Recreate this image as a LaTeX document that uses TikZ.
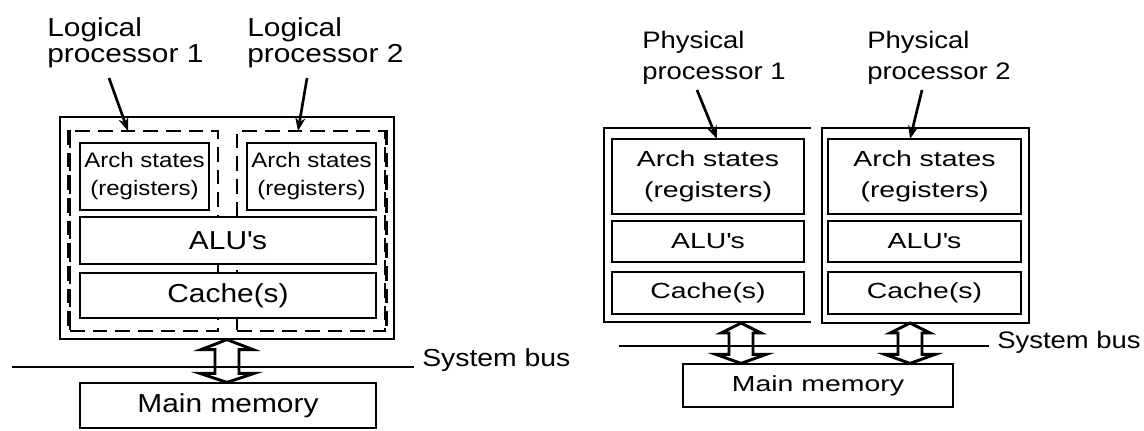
\documentclass[tikz,border=0pt]{standalone}
\usepackage{fontspec}
\setmainfont{Liberation Sans}[FakeStretch=1.15]
\newfontfamily\widesans{Liberation Sans}[FakeStretch=1.3]
\usepackage{tikz}
\usetikzlibrary{positioning, fit, calc, arrows.meta}

% hollow double-headed bus arrow: top, bottom, half width of top head, of bottom head
\newcommand\busarrow[4]{%
  \draw[busarrow] (#1) -- ($(#1)+(#3,10)$) -- ($(#1)+(12,10)$) -- ($(#2)+(12,-9)$)
    -- ($(#2)+(#4,-9)$) -- (#2) -- ($(#2)+(-#4,-9)$) -- ($(#2)+(-12,-9)$)
    -- ($(#1)+(-12,10)$) -- ($(#1)+(-#3,10)$) -- cycle;}

\begin{document}
\begin{tikzpicture}[x=0.75pt, y=-0.75pt,
    unit/.style={draw, line width=1.1pt, fill=white, inner sep=0pt, align=center},
    size/.style 2 args={minimum width=#1*0.75pt, minimum height=#2*0.75pt},
    frame/.style={draw, line width=0.9pt, inner sep=0pt},
    lproc/.style={draw, line width=1.7pt, dash pattern=on 11pt off 6pt, inner sep=0pt},
    pointer/.style={line width=2pt, -{Stealth[length=10pt, width=7.5pt]}},
    busline/.style={line width=1.3pt, shorten >=6pt},
    busarrow/.style={line width=2.2pt, line join=miter},
    lbl/.style={align=left, inner sep=0pt, anchor=north west},
    logical/.style={lbl, font=\fontsize{19.5}{20}\selectfont},
    physical/.style={lbl, font=\fontsize{17.9}{23}\selectfont},
    small/.style={font=\fontsize{15.7}{21}\selectfont},
    big/.style={font=\fontsize{19.5}{21}\selectfont},
    wide/.style={font=\widesans\fontsize{16.4}{23}\selectfont}]

    \useasboundingbox (0,0) rectangle (1144,430);

    % Hyper-Threading
    \node[frame, fit={(60,117) (394,339)}] (core) {};
    \node[lproc, fit={(70,131) (218,331)}] (lp1box) {};
    \node[lproc, fit={(237,131) (385,331)}] (lp2box) {};
    \draw[lproc, line width=3pt] (lp1box.north west) -- (lp1box.south west);
    \draw[lproc, line width=2.4pt] (lp2box.north east) -- (lp2box.south east);

    \node[unit, small, size={129}{67}] (archA) at (144.5,176.5) {Arch states\\(registers)};
    \node[unit, small, size={129}{67}] (archB) at (311.5,176.5) {Arch states\\(registers)};
    \node[unit, big, size={296}{47}] (aluL) at (228,240.5) {ALU\textquotesingle s};
    \node[unit, big, size={296}{45}] (cacheL) at (228,295.5) {Cache(s)};
    \node[unit, big, line width=0.9pt, size={296}{45}] (memL) at (228,405.5) {Main memory};

    \node[logical] (lp1) at (47,17) {Logical\\processor 1};
    \node[logical] (lp2) at (247,17) {Logical\\processor 2};
    \coordinate (lp1tail) at (109,78);
    \coordinate (lp1tip) at (128,131);
    \coordinate (lp2tail) at (307,78);
    \coordinate (lp2tip) at (298,131);
    \draw[pointer] (lp1tail) -- (lp1tip);
    \draw[pointer] (lp2tail) -- (lp2tip);

    \node[anchor=base west, inner sep=0pt, font=\fontsize{18.5}{18.5}\selectfont] (busL) at (422,366) {System bus};
    \coordinate (busLstart) at (12,367);
    \draw[busline] (busLstart) -- (busLstart -| busL.west);
    \coordinate (busLtop) at (core.south);
    \coordinate (busLbot) at (core.south |- memL.north);
    \busarrow{busLtop}{busLbot}{26}{27}

    % two physical processors
    \draw[line width=1.1pt] (811,128) -| (604,322) -- (811,322);
    \node[frame, line width=1.1pt, fit={(822,128) (1029,323)}] (cpu2) {};

    \node[unit, wide, size={192}{75}] (archC) at (708,176.5) {Arch states\\(registers)};
    \node[unit, wide, size={192}{41}] (aluC) at (708,241.5) {ALU\textquotesingle s};
    \node[unit, wide, size={192}{42}] (cacheC) at (708,293) {Cache(s)};
    \node[unit, wide, size={193}{75}] (archD) at (924.5,176.5) {Arch states\\(registers)};
    \node[unit, wide, size={193}{41}] (aluD) at (924.5,241.5) {ALU\textquotesingle s};
    \node[unit, wide, size={193}{42}] (cacheD) at (924.5,293) {Cache(s)};
    \node[unit, wide, line width=0.9pt, size={270}{43}] (memR) at (818,385.5) {Main memory};

    \node[physical] (pp1) at (642,31) {Physical\\processor 1};
    \node[physical] (pp2) at (867,31) {Physical\\processor 2};
    \coordinate (pp1tail) at (697,90);
    \coordinate (pp1tip) at (717,139);
    \coordinate (pp2tail) at (922,90);
    \coordinate (pp2tip) at (910,139);
    \draw[pointer] (pp1tail) -- (pp1tip);
    \draw[pointer] (pp2tail) -- (pp2tip);

    \node[anchor=base west, inner sep=0pt, font=\fontsize{17.9}{17.9}\selectfont] (busR) at (997,348) {System bus};
    \coordinate (busRstart) at (619,346);
    \draw[busline] (busRstart) -- (busRstart -| busR.west);
    \coordinate (busR1top) at (741,323);
    \coordinate (busR1bot) at (busR1top |- memR.north);
    \coordinate (busR2top) at (910,323);
    \coordinate (busR2bot) at (busR2top |- memR.north);
    \busarrow{busR1top}{busR1bot}{20}{25}
    \busarrow{busR2top}{busR2bot}{20}{25}
\end{tikzpicture}
\end{document}
